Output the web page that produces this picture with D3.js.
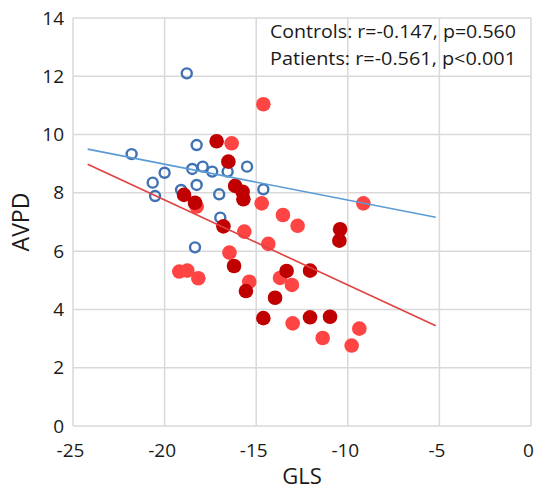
<!DOCTYPE html>
<html>
<head>
<meta charset="utf-8">
<script src="https://cdn.jsdelivr.net/npm/d3@7"></script>
<style>
  body { margin: 0; background: #fff; }
  svg text { font-family: "Open Sans", "Noto Sans", sans-serif; fill: #1a1a1a; }
</style>
</head>
<body>
<div id="chart"></div>
<script>
// controls (open blue circles): [GLS, AVPD]
var controls = [
  [-18.79, 12.1], [-18.25, 9.64], [-21.8, 9.33], [-20.0, 8.69], [-18.49, 8.82],
  [-17.92, 8.90], [-17.40, 8.73], [-16.56, 8.73], [-15.50, 8.90], [-20.65, 8.35],
  [-18.25, 8.27], [-19.10, 8.10], [-20.52, 7.89], [-17.02, 7.95], [-16.96, 7.15],
  [-18.34, 6.13], [-14.61, 8.12]
];

// patients, darker group
var patientsDark = [
  [-17.16, 9.77], [-16.52, 9.07], [-16.15, 8.24], [-15.74, 8.04], [-15.70, 7.78],
  [-18.94, 7.93], [-18.34, 7.66], [-16.79, 6.85], [-16.21, 5.49], [-15.56, 4.63],
  [-13.34, 5.32], [-12.06, 5.33], [-13.97, 4.40], [-14.61, 3.70], [-12.06, 3.73],
  [-10.97, 3.75], [-10.42, 6.75], [-10.46, 6.36]
];

// patients, lighter group
var patientsLight = [
  [-16.34, 9.70], [-14.61, 11.04], [-18.25, 7.53], [-14.70, 7.64], [-13.54, 7.24],
  [-12.74, 6.87], [-15.65, 6.67], [-14.34, 6.25], [-16.46, 5.95], [-15.38, 4.95],
  [-13.70, 5.08], [-13.05, 4.84], [-13.01, 3.52], [-11.37, 3.02], [-9.37, 3.34],
  [-9.79, 2.76], [-9.15, 7.64], [-19.20, 5.30], [-18.76, 5.33], [-18.16, 5.07]
];

// trend line end points
var fitX = [-24.2, -5.2];
var controlFit = [9.50, 7.16];
var patientFit = [8.98, 3.44];

var xTicks = [-25, -20, -15, -10, -5, 0];
var yTicks = [0, 2, 4, 6, 8, 10, 12, 14];

var notes = ["Controls: r=-0.147, p=0.560", "Patients: r=-0.561, p<0.001"];

var width = 537, height = 492;
var margin = { top: 18, right: 6, bottom: 66, left: 73 };

var svg = d3.select("#chart").append("svg")
    .attr("width", width)
    .attr("height", height);

var x = d3.scaleLinear().domain([-25, 0]).range([margin.left, width - margin.right]);
var y = d3.scaleLinear().domain([0, 14]).range([height - margin.bottom, margin.top]);

// gridlines
svg.append("g")
    .selectAll("line.vx")
    .data(xTicks)
    .enter().append("line")
    .attr("x1", function(d) { return x(d); })
    .attr("x2", function(d) { return x(d); })
    .attr("y1", y(0))
    .attr("y2", y(14))
    .attr("stroke", "#d9d9d9")
    .attr("stroke-width", 1.5);

svg.append("g")
    .selectAll("line.hy")
    .data(yTicks)
    .enter().append("line")
    .attr("x1", x(-25))
    .attr("x2", x(0))
    .attr("y1", function(d) { return y(d); })
    .attr("y2", function(d) { return y(d); })
    .attr("stroke", "#d9d9d9")
    .attr("stroke-width", 1.5);

// axes - labels only, plain hyphen minus like the original
var xAxis = d3.axisBottom(x).tickValues(xTicks).tickSize(0).tickPadding(18)
    .tickFormat(function(d) { return String(d); });
var gx = svg.append("g")
    .attr("transform", "translate(0," + y(0) + ")")
    .call(xAxis);
gx.select(".domain").remove();
gx.selectAll("text").style("font-size", "19px").attr("fill", "#1a1a1a").attr("dx", "-3");

var yAxis = d3.axisLeft(y).tickValues(yTicks).tickSize(0).tickPadding(9)
    .tickFormat(function(d) { return String(d); });
var gy = svg.append("g")
    .attr("transform", "translate(" + x(-25) + ",0)")
    .call(yAxis);
gy.select(".domain").remove();
gy.selectAll("text").style("font-size", "19px").attr("fill", "#1a1a1a");

// axis titles
svg.append("text")
    .attr("x", x(-12.5))
    .attr("y", 484)
    .attr("text-anchor", "middle")
    .style("font-size", "22px")
    .text("GLS");

svg.append("text")
    .attr("transform", "translate(29," + y(7) + ") rotate(-90)")
    .attr("text-anchor", "middle")
    .style("font-size", "23px")
    .text("AVPD");

// points
svg.append("g").selectAll("circle")
    .data(controls)
    .enter().append("circle")
    .attr("cx", function(d) { return x(d[0]); })
    .attr("cy", function(d) { return y(d[1]); })
    .attr("r", 5)
    .attr("fill", "none")
    .attr("stroke", "#3f72b5")
    .attr("stroke-width", 2.4);

svg.append("g").selectAll("circle")
    .data(patientsLight)
    .enter().append("circle")
    .attr("cx", function(d) { return x(d[0]); })
    .attr("cy", function(d) { return y(d[1]); })
    .attr("r", 7.3)
    .attr("fill", "#ff4444");

svg.append("g").selectAll("circle")
    .data(patientsDark)
    .enter().append("circle")
    .attr("cx", function(d) { return x(d[0]); })
    .attr("cy", function(d) { return y(d[1]); })
    .attr("r", 7.3)
    .attr("fill", "#c00000");

// trend lines
var line = d3.line()
    .x(function(d) { return x(d[0]); })
    .y(function(d) { return y(d[1]); });

svg.append("path")
    .datum(fitX.map(function(v, i) { return [v, controlFit[i]]; }))
    .attr("d", line)
    .attr("fill", "none")
    .attr("stroke", "#5b9bd5")
    .attr("stroke-width", 1.6);

svg.append("path")
    .datum(fitX.map(function(v, i) { return [v, patientFit[i]]; }))
    .attr("d", line)
    .attr("fill", "none")
    .attr("stroke", "#e0403f")
    .attr("stroke-width", 1.6);

// correlation notes
svg.append("g").selectAll("text")
    .data(notes)
    .enter().append("text")
    .attr("x", 270)
    .attr("y", function(d, i) { return 38 + i * 27; })
    .style("font-size", "18px")
    .attr("textLength", 246)
    .attr("lengthAdjust", "spacingAndGlyphs")
    .text(function(d) { return d; });
</script>
</body>
</html>
